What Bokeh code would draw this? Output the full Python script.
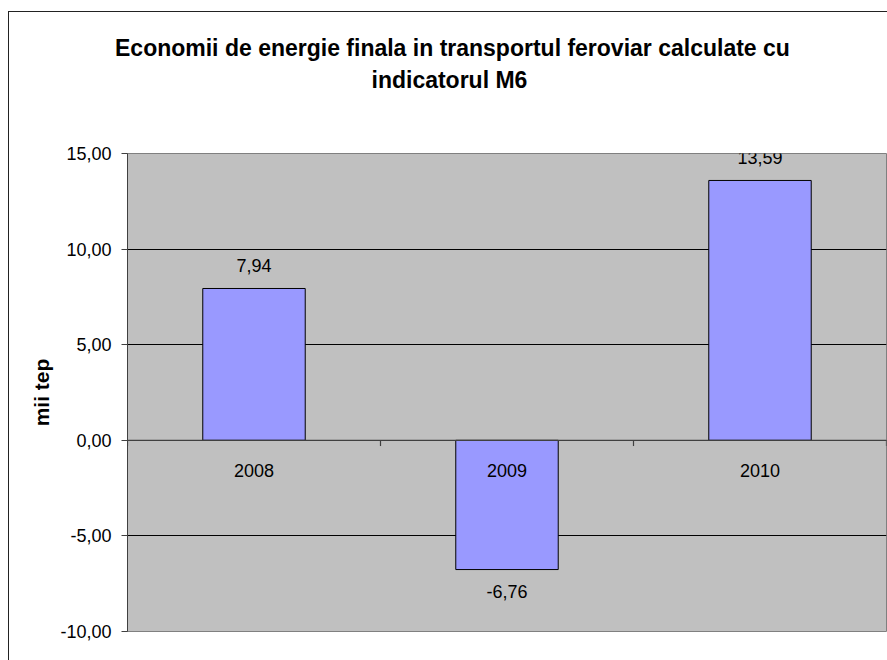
from bokeh.plotting import figure
from bokeh.models import (FactorRange, Range1d, FixedTicker, ColumnDataSource,
                          Span, Title, InlineStyleSheet)
from bokeh.core.properties import value
from bokeh.embed import file_html
from bokeh.resources import INLINE

# ---- data ----
years = ["2008", "2009", "2010"]
savings = [7.94, -6.76, 13.59]
y_ticks = [-10, -5, 0, 5, 10, 15]
y_tick_labels = ["-10,00", "-5,00", "0,00", "5,00", "10,00", "15,00"]
title_lines = ["Economii de energie finala in transportul feroviar calculate cu",
               "indicatorul M6"]
y_label = "mii tep"

FONT = "Liberation Sans"

frame_css = InlineStyleSheet(css="""
:host { position: relative; }
:host::after {
  content: ""; position: absolute; left: 8px; top: 11px; right: 0; bottom: 0;
  border-left: 1.5px solid #222; border-top: 1.5px solid #222;
  pointer-events: none; z-index: 10;
}
""")

p = figure(width=887, height=660, output_backend="svg", toolbar_location=None,
           x_range=FactorRange(factors=years, range_padding=0),
           y_range=Range1d(-10, 15),
           min_border_left=127, min_border_right=1,
           min_border_top=153, min_border_bottom=29,
           stylesheets=[frame_css])

p.background_fill_color = "#C0C0C0"
p.border_fill_color = "white"
p.outline_line_color = "#808080"
p.outline_line_width = 1

# y axis
p.yaxis.ticker = FixedTicker(ticks=y_ticks)
p.yaxis.major_label_overrides = {t: l for t, l in zip(y_ticks, y_tick_labels)}
p.yaxis.axis_label = y_label
p.yaxis.axis_label_text_font = FONT
p.yaxis.axis_label_text_font_style = "bold"
p.yaxis.axis_label_text_font_size = "21px"
p.yaxis.axis_label_text_color = "black"
p.yaxis.axis_label_standoff = 4
p.yaxis.major_label_text_font = FONT
p.yaxis.major_label_text_font_size = "18px"
p.yaxis.major_label_text_color = "black"
p.yaxis.major_label_standoff = 10
p.yaxis.major_tick_out = 6
p.yaxis.major_tick_in = 0
p.yaxis.minor_tick_out = 0
p.yaxis.minor_tick_in = 0
p.yaxis.axis_line_color = "#404040"
p.yaxis.major_tick_line_color = "#404040"

p.xaxis.visible = False
p.xgrid.visible = False
p.ygrid.grid_line_color = "black"
p.ygrid.grid_line_width = 1
p.ygrid.grid_line_alpha = 1

labels = [f"{v:.2f}".replace(".", ",") for v in savings]
src = ColumnDataSource(dict(
    year=years, val=savings, lab=labels,
    off=[-23 if v >= 0 else 22 for v in savings],
    zero=[0] * len(years),
))

p.vbar(x="year", top="val", bottom=0, width=0.405, source=src,
       fill_color="#9999FF", line_color="black", line_width=1)

# zero line
p.add_layout(Span(location=0, dimension="width", line_color="#404040",
                  line_width=1.2))

# category boundary ticks on the zero line
bx = [(y, -0.5) for y in years] + [(years[-1], 0.5)]
p.segment(x0=bx, x1=bx, y0=[0] * len(bx), y1=[-0.3] * len(bx),
          line_color="#404040", line_width=1.2)

# value labels
p.text(x="year", y="val", text="lab", y_offset="off", source=src,
       text_font=value(FONT), text_font_size="18px", text_color="black",
       text_align="center", text_baseline="middle")

# category labels
p.text(x="year", y="zero", text="year", y_offset=30, source=src,
       text_font=value(FONT), text_font_size="18px", text_color="black",
       text_align="center", text_baseline="middle")

# title: spacer nearest the plot area, then line 2, then line 1
tstyle = dict(align="left", text_font=FONT, text_font_style="bold",
              text_font_size="23px", text_color="black")
spacer = Title(text=" ", standoff=30.5, **tstyle)
t2 = Title(text=title_lines[1], offset=244, standoff=4, **tstyle)
t1 = Title(text=title_lines[0], offset=-12.5, standoff=4, **tstyle)
p.add_layout(spacer, "above")
p.add_layout(t2, "above")
p.add_layout(t1, "above")

open("out.html", "w").write(file_html(p, INLINE))
